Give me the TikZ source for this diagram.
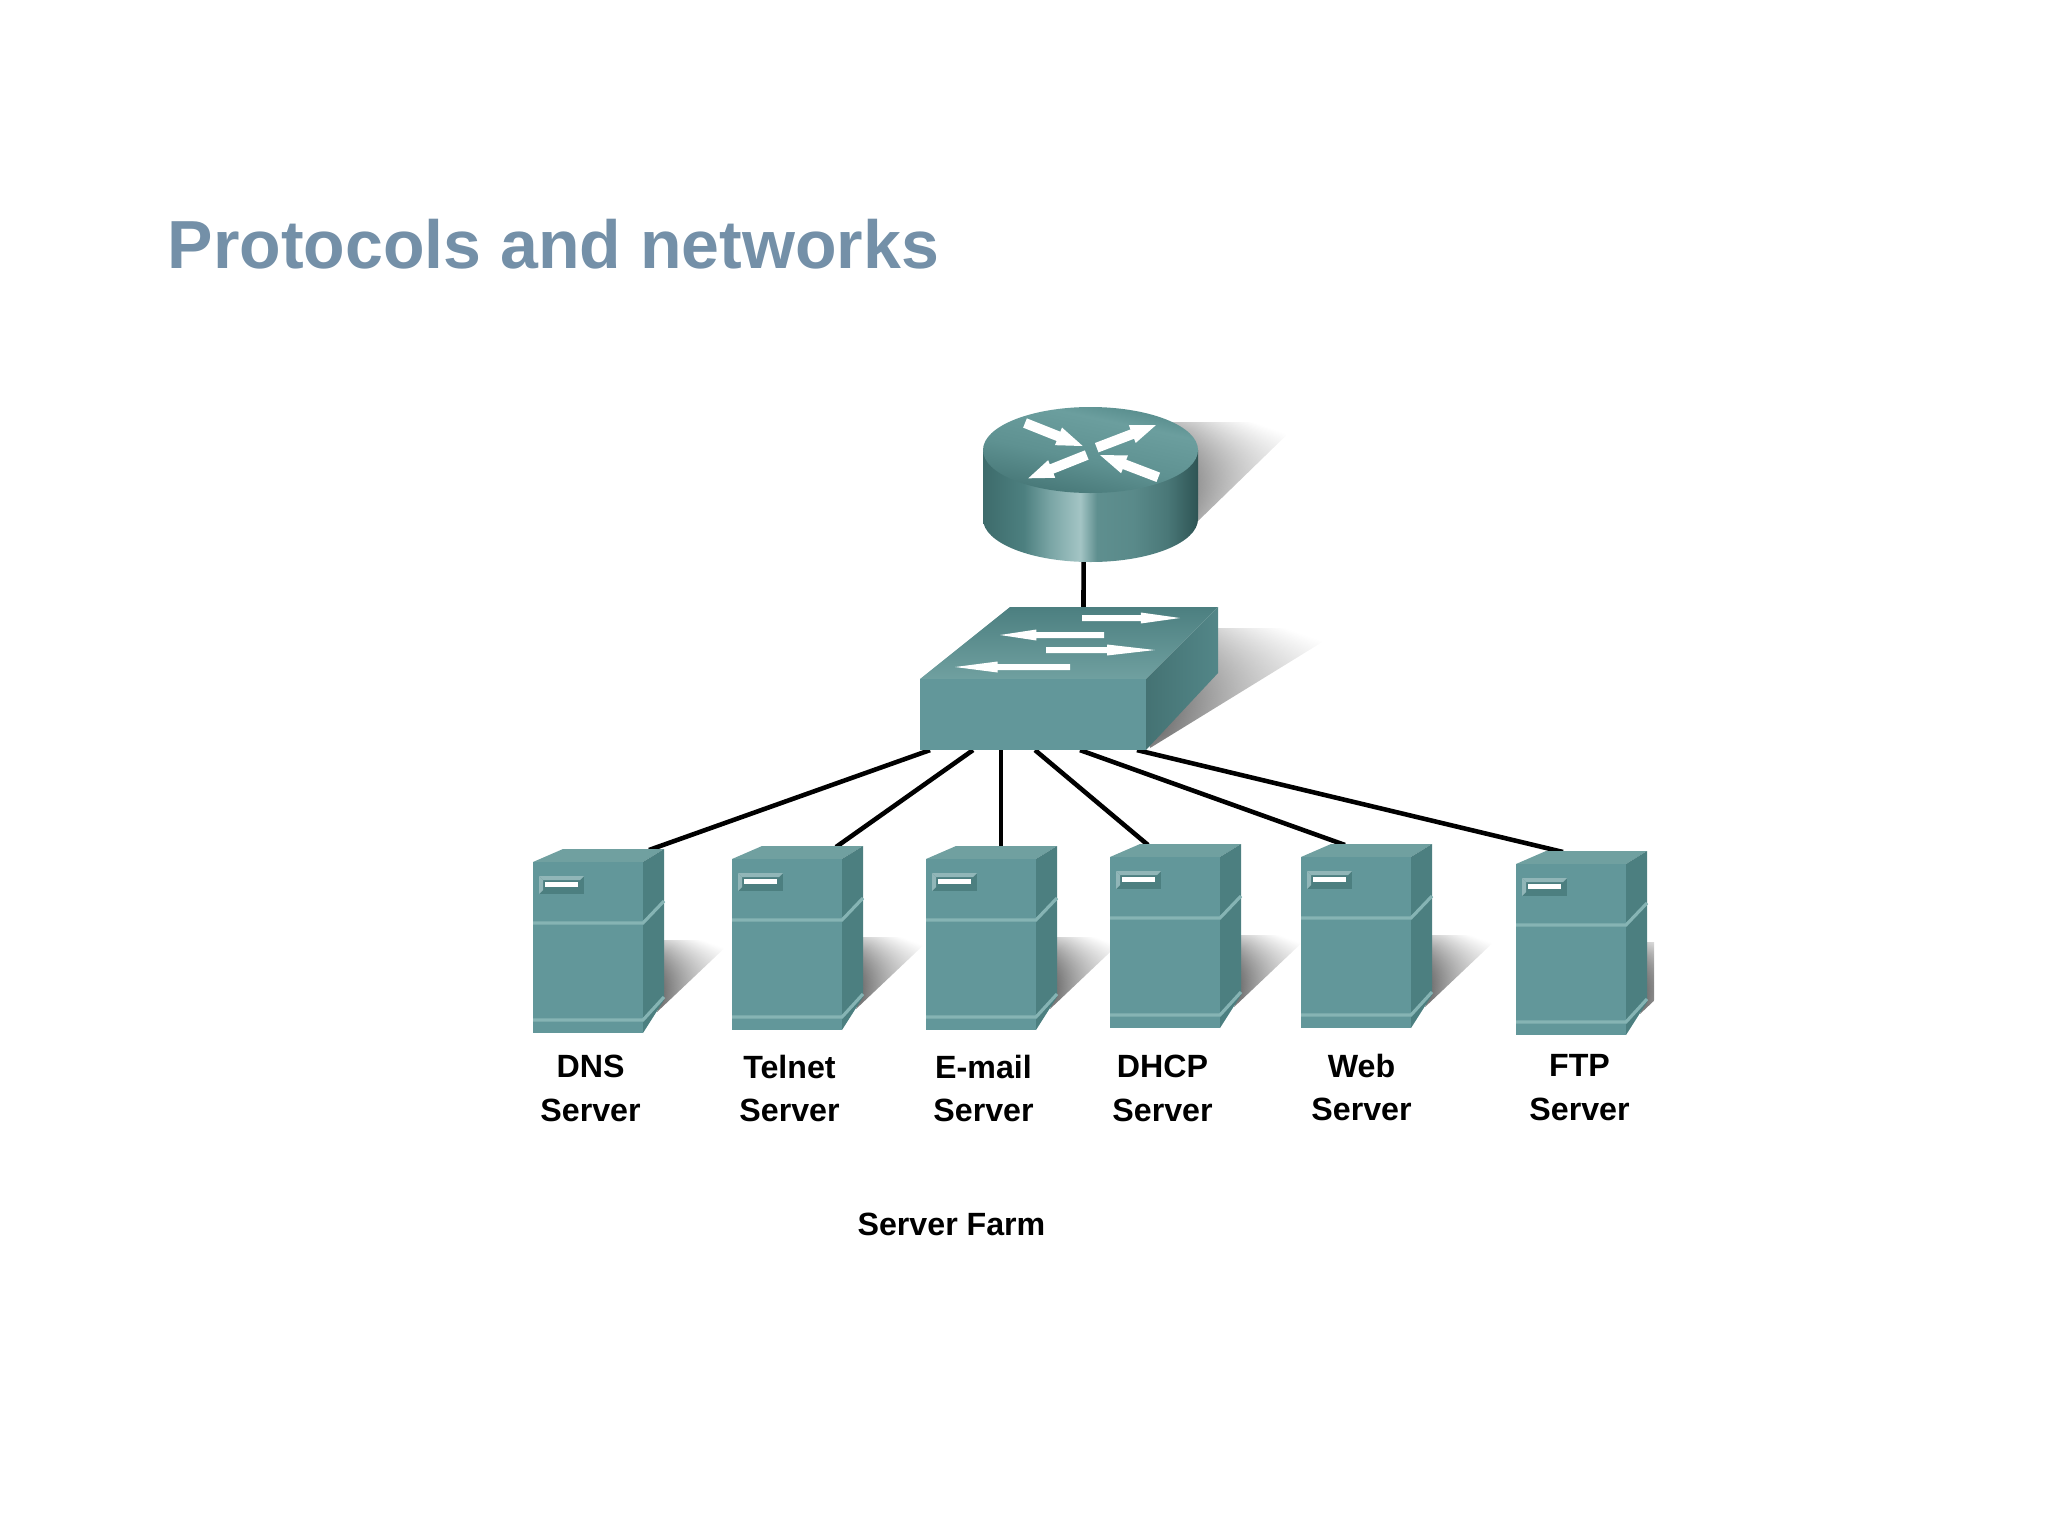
\documentclass[tikz,border=0pt]{standalone}
\usepackage{xcolor}
\usepackage{fontspec}
\setmainfont{Liberation Sans}
\usetikzlibrary{calc,fadings}

\definecolor{titleblue}{HTML}{7490A8}
\definecolor{tealfront}{HTML}{62979A}
\definecolor{tealtop}{HTML}{70A0A0}
\definecolor{tealside}{HTML}{4C7F80}
\definecolor{tealedge}{HTML}{86B4B4}

\pgfdeclarehorizontalshading{routerside}{100bp}{
  rgb(0bp)=(.24,.42,.42); rgb(25bp)=(.24,.42,.42); rgb(34.5bp)=(.30,.50,.50);
  rgb(40.7bp)=(.48,.65,.65); rgb(47.6bp)=(.64,.77,.77); rgb(51.5bp)=(.37,.56,.56);
  rgb(60bp)=(.35,.54,.54); rgb(67.8bp)=(.29,.47,.47); rgb(75bp)=(.18,.33,.33); rgb(100bp)=(.18,.33,.33)}
\pgfdeclareverticalshading{routertop}{100bp}{
  rgb(0bp)=(.27,.46,.46); rgb(25bp)=(.27,.46,.46); rgb(45bp)=(.37,.57,.57);
  rgb(65bp)=(.42,.62,.62); rgb(75bp)=(.33,.54,.54); rgb(100bp)=(.33,.53,.53)}
\tikzfading[name=softedge, left color=transparent!0, middle color=transparent!0, right color=transparent!100]

% white arrow on router and switch: tail, tip, where the head starts, shaft and head half width
\newcommand{\whitearrow}[5]{
  \fill[white] ($#1!#4!90:#2$) -- ($#1!#3!#2!#4!90:#2$) -- ($#1!#3!#2!#5!90:#2$) -- #2
    -- ($#1!#3!#2!#5!-90:#2$) -- ($#1!#3!#2!#4!-90:#2$) -- ($#1!#4!-90:#2$) -- cycle;
}

\tikzset{
  box/.style={anchor=north west, inner sep=0pt, outer sep=0pt},
  serverbox/.style={box, minimum width=1.31cm, minimum height=1.84cm},
  serverlabel/.style={align=center, font=\fontsize{9.15}{12.4}\selectfont\bfseries},
  link/.style={draw=black, line width=1.3pt},
  softshadow/.style={top color=white, bottom color=black, shading angle=-20, path fading=softedge, fading angle=-45},
  server/.pic={
    % shadow, then the three faces
    \shade[softshadow] (131,91) -- (200,91) -- (124,163) -- (131,140) -- cycle;
    \fill[tealtop] (0,13) -- (30,0) -- (131,0) -- (110,13) -- cycle;
    \fill[tealfront] (0,13) rectangle (110,184);
    \fill[tealside] (110,13) -- (131,0) -- (131,151) -- (110,184) -- cycle;
    \draw[tealedge, line width=.9pt] (0,74) -- (110,74) -- (131,52);
    \draw[tealedge, line width=.9pt] (0,171) -- (110,171) -- (131,148);
    % drive slot
    \fill[tealside] (6,27) rectangle (51,45);
    \fill[tealfront!70!white] (6,27) -- (51,27) -- (47,31) -- (10,31) -- cycle;
    \fill[tealfront!70!white] (6,27) -- (10,31) -- (10,41) -- (6,45) -- cycle;
    \fill[white] (12,33) rectangle (45,38);
  }
}

\begin{document}
\begin{tikzpicture}[x=.01cm, y=-.01cm]
  \useasboundingbox (0,0) rectangle (2048,1536);

  \node[anchor=west, inner sep=0pt, text=titleblue, font=\fontsize{19.35}{23}\selectfont\bfseries] (title) at (167,244) {Protocols and networks};

  % device outlines, used by the connectors
  \node[box, minimum width=2.15cm, minimum height=1.55cm] (router) at (983,407) {};
  \node[box, minimum width=2.98cm, minimum height=1.43cm] (switch) at (920,607) {};
  \node[serverbox] (dns) at (533,849) {};
  \node[serverbox] (telnet) at (732,846) {};
  \node[serverbox] (email) at (926,846) {};
  \node[serverbox] (dhcp) at (1110,844) {};
  \node[serverbox] (web) at (1301,844) {};
  \node[serverbox] (ftp) at (1516,851) {};

  % shadows of router and switch
  \shade[softshadow] (1160,422) -- (1300,422) -- (1197,522) -- (1190,470) -- cycle;
  \shade[softshadow] (1200,628) -- (1345,628) -- (1150,748) -- (1146,700) -- cycle;

  \draw[link] ($(router.south)+(-7,-2)$) -- ($(switch.north west)+(163.5,1)$);
  \draw[link] ($(switch.south west)+(10,0)$) -- ($(dns.north west)+(116,1)$);
  \draw[link] ($(switch.south west)+(53,0)$) -- ($(telnet.north west)+(104,1)$);
  \draw[link] ($(switch.south west)+(81,0)$) -- ($(email.north west)+(75,1)$);
  \draw[link] ($(switch.south west)+(115,0)$) -- ($(dhcp.north west)+(38,1)$);
  \draw[link] ($(switch.south west)+(160,0)$) -- ($(web.north west)+(44,1)$);
  \draw[link] ($(switch.south west)+(217,0)$) -- ($(ftp.north west)+(47,1)$);

  % router
  \shade[shading=routerside] (983,450) -- (983,519) arc[start angle=180, end angle=0, x radius=107.5, y radius=43] -- (1198,450) -- cycle;
  \shade[shading=routertop, shading angle=-12] (1090.5,450) ellipse[x radius=107.5, y radius=43];
  \whitearrow{(1025,423)}{(1082.7,446)}{.58}{.05cm}{.095cm}
  \whitearrow{(1096.7,447.7)}{(1156,425)}{.6}{.05cm}{.095cm}
  \whitearrow{(1086.7,455)}{(1028.3,478.3)}{.6}{.05cm}{.095cm}
  \whitearrow{(1158.3,477.3)}{(1100,455)}{.58}{.05cm}{.095cm}

  % switch
  \shade[top color=tealside, bottom color=tealtop] (920,679) -- (1010,607) -- (1218,607) -- (1146,679) -- cycle;
  \fill[tealfront] (920,679) rectangle (1146,750);
  \shade[left color=tealside!90!black, right color=tealside!70!tealfront] (1146,679) -- (1218,607) -- (1218,673) -- (1146,750) -- cycle;
  \whitearrow{(1082,618)}{(1180,618)}{.6}{.03cm}{.055cm}
  \whitearrow{(1104,635)}{(1000,635)}{.65}{.03cm}{.055cm}
  \whitearrow{(1046,650)}{(1155,650)}{.56}{.03cm}{.055cm}
  \whitearrow{(1070,667)}{(955,667)}{.63}{.03cm}{.055cm}

  \pic at (dns.north west) {server};
  \pic at (telnet.north west) {server};
  \pic at (email.north west) {server};
  \pic at (dhcp.north west) {server};
  \pic at (web.north west) {server};
  \begin{scope}
    \clip (1516,851) rectangle (1654,1040);
    \pic at (ftp.north west) {server};
  \end{scope}

  \node[serverlabel] (dnslabel) at (590.5,1088.5) {DNS\\Server};
  \node[serverlabel] (telnetlabel) at (789.5,1088.5) {Telnet\\Server};
  \node[serverlabel] (emaillabel) at (983.5,1088.5) {E-mail\\Server};
  \node[serverlabel] (dhcplabel) at (1162.5,1088.5) {DHCP\\Server};
  \node[serverlabel] (weblabel) at (1361.5,1087.5) {Web\\Server};
  \node[serverlabel] (ftplabel) at (1579.5,1087.5) {FTP\\Server};
  \node[serverlabel] (farm) at (951.5,1224) {Server Farm};
\end{tikzpicture}
\end{document}
